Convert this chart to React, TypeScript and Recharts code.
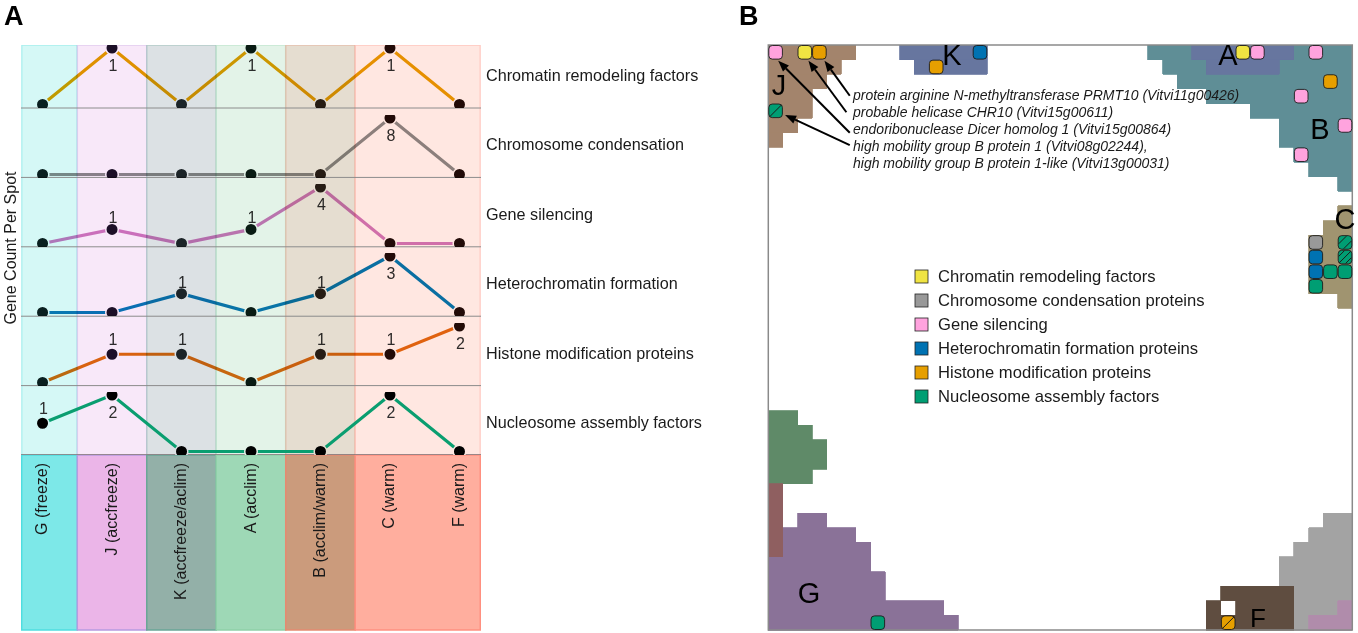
import React from "react";
import {
  LineChart, Line, XAxis, YAxis, ReferenceArea, ReferenceLine, ScatterChart, Scatter,
} from "recharts";

const FONT = '"Liberation Sans", Arial, sans-serif';

// ---- Panel A data ----
const conditions = ["G (freeze)", "J (accfreeze)", "K (accfreeze/aclim)", "A (acclim)", "B (acclim/warm)", "C (warm)", "F (warm)"];
const bandStarts = [-0.3, 0.5, 1.5, 2.5, 3.5, 4.5];
const bandEnds = [0.5, 1.5, 2.5, 3.5, 4.5, 6.3];
const bandFills = ["#7de8e8", "#ebb5e8", "#93b0a8", "#9ed8b6", "#cb9b7c", "#ffae9e"];
const bandEdges = ["#4fdde0", "#b79ae0", "#6aa596", "#8fd0a8", "#e58a70", "#ff9080"];
const paleFills = ["#d5f8f6", "#f8e8f9", "#dce1e4", "#e3f3e8", "#e5ddd0", "#ffe7e1"];
const dotTints = ["#0a2020", "#1c1028", "#20282c", "#0a1c14", "#2a2018", "#220c08", "#220c08"];

const chromatin = [0, 1, 0, 1, 0, 1, 0];
const condensation = [0, 0, 0, 0, 0, 8, 0];
const silencing = [0, 1, 0, 1, 4, 0, 0];
const heterochromatin = [0, 0, 1, 0, 1, 3, 0];
const histone = [0, 1, 1, 0, 1, 1, 2];
const nucleosome = [1, 2, 0, 0, 0, 2, 0];

const rowLabels = ["Chromatin remodeling factors", "Chromosome condensation", "Gene silencing", "Heterochromatin formation", "Histone modification proteins", "Nucleosome assembly factors"];
const rowLines = [0, 1, 2, 3, 4, 5];

// ---- Panel B data: [colStart, colEnd, rowStart, rowEnd] in a 40 x 40 SOM grid ----
const regionJ = [[0, 6, 0, 1], [0, 5, 1, 2], [0, 4, 2, 3], [0, 3, 3, 5], [0, 2, 5, 6], [0, 1, 6, 7]];
const regionK = [[9, 15, 0, 1], [10, 15, 1, 2]];
const regionB = [[26, 40, 0, 1], [27, 40, 1, 2], [28, 40, 2, 3], [30, 40, 3, 4], [33, 40, 4, 5], [35, 40, 5, 7], [36, 40, 7, 8], [37, 40, 8, 9], [39, 40, 9, 10]];
const regionA = [[29, 36, 0, 1], [30, 35, 1, 2]];
const regionC = [[39, 40, 11, 12], [38, 40, 12, 13], [37, 40, 13, 17], [39, 40, 17, 18]];
const regionGreen = [[0, 2, 25, 26], [0, 3, 26, 27], [0, 4, 27, 29], [0, 3, 29, 30]];
const regionG = [[2, 4, 32, 33], [1, 6, 33, 34], [1, 7, 34, 35], [0, 7, 35, 36], [0, 8, 36, 38], [0, 12, 38, 39], [0, 13, 39, 40]];
const regionRed = [[0, 1, 30, 35]];
const regionGray = [[38, 40, 32, 33], [37, 40, 33, 34], [36, 40, 34, 35], [35, 40, 35, 37], [36, 40, 37, 40]];
const regionF = [[31, 36, 37, 38], [30, 31, 38, 39], [32, 36, 38, 39], [30, 36, 39, 40]];
const regionMauve = [[39, 40, 38, 39], [37, 40, 39, 40]];

const regionLayers: [number[][], string][] = [
  [regionJ, "#a3846c"],
  [regionB, "#5f8e96"],
  [regionK, "#67769f"],
  [regionA, "#67769f"],
  [regionC, "#a09470"],
  [regionGreen, "#5f8a68"],
  [regionG, "#8a7298"],
  [regionRed, "#8f5f60"],
  [regionGray, "#a3a3a3"],
  [regionF, "#5f4d40"],
  [regionMauve, "#b08cab"],
];

const spotsChromatin = [{ c: 2, r: 0 }, { c: 32, r: 0 }];
const spotsCondensation = [{ c: 37, r: 13 }];
const spotsSilencing = [{ c: 0, r: 0 }, { c: 33, r: 0 }, { c: 37, r: 0 }, { c: 36, r: 3 }, { c: 39, r: 5 }, { c: 36, r: 7 }];
const spotsHetero = [{ c: 14, r: 0 }, { c: 37, r: 14 }, { c: 37, r: 15 }];
const spotsHistone = [{ c: 3, r: 0 }, { c: 11, r: 1 }, { c: 38, r: 2 }, { c: 31, r: 39, hatch: 1 }];
const spotsNucleosome = [{ c: 0, r: 4, hatch: 1 }, { c: 39, r: 13, hatch: 2 }, { c: 39, r: 14, hatch: 3 }, { c: 38, r: 15 }, { c: 39, r: 15 }, { c: 37, r: 16 }, { c: 7, r: 39 }];

const spotSeries: [string, string, { c: number; r: number; hatch?: number }[]][] = [
  ["Chromatin remodeling factors", "#f0e442", spotsChromatin],
  ["Chromosome condensation proteins", "#999999", spotsCondensation],
  ["Gene silencing", "#ffa3de", spotsSilencing],
  ["Heterochromatin formation proteins", "#0072b2", spotsHetero],
  ["Histone modification proteins", "#e69f00", spotsHistone],
  ["Nucleosome assembly factors", "#009e73", spotsNucleosome],
];

const arrowSegments = [
  [5.58, 3.47, 3.85, 1.07],
  [5.35, 4.6, 2.75, 1.07],
  [5.58, 6.0, 0.68, 1.07],
  [5.58, 6.84, 1.15, 4.79],
];

const annotations = [
  "protein arginine N-methyltransferase PRMT10 (Vitvi11g00426)",
  "probable helicase CHR10 (Vitvi15g00611)",
  "endoribonuclease Dicer homolog 1 (Vitvi15g00864)",
  "high mobility group B protein 1 (Vitvi08g02244),",
  "high mobility group B protein 1-like (Vitvi13g00031)",
];

const somLetters = [
  { t: "J", x: 779, y: 95, s: 29 }, { t: "K", x: 952, y: 65, s: 29 }, { t: "A", x: 1228, y: 65, s: 29 }, { t: "B", x: 1320, y: 139, s: 29 },
  { t: "C", x: 1345, y: 229, s: 29 }, { t: "G", x: 809, y: 603, s: 29 }, { t: "F", x: 1258, y: 627, s: 26 },
];

const layer = (left: number, top: number): React.CSSProperties => ({ position: "absolute", left, top });
const X_DOMAIN: [number, number] = [-0.31, 6.31];
const AREA_W = 460;
const AREA_L = 21;
const TXT = 16;

function Row({ values, color, top, above, dotFills, dotEdges }: { values: number[]; color: string; top: number; above: number; dotFills: string[]; dotEdges: string[] }) {
  const data = values.map((v, i) => ({ i, v }));
  const max = Math.max(...values);
  return (
    <div style={layer(AREA_L, top)}>
      <LineChart width={AREA_W} height={63} data={data} margin={{ top: 3, bottom: 3.5, left: 0, right: 0 }}>
        <XAxis dataKey="i" type="number" domain={X_DOMAIN} hide />
        <YAxis type="number" domain={[0, max]} hide />
        <Line
          dataKey="v"
          type="linear"
          stroke={color}
          strokeWidth={3.2}
          isAnimationActive={false}
          dot={(p: any) => (
            <circle key={p.index} cx={p.cx} cy={p.cy} r={6.25} fill={dotFills[p.index]} stroke={dotEdges[p.index]} strokeWidth={1.5} />
          )}
          label={(p: any) => {
            if (!p.value) return <g key={p.index} />;
            const below = p.value === max;
            return (
              <text key={p.index} x={p.x + 1} y={p.y + (below ? 22.5 : -above)} textAnchor="middle" fontSize={TXT} fontFamily={FONT} fill="#2e2e2e">
                {p.value}
              </text>
            );
          }}
        />
      </LineChart>
    </div>
  );
}

const BandChart = ({ height, bottom, fills, top, yMax, strokeOpacity, lines, blend }: any) => (
  <div style={{ ...layer(AREA_L, top), mixBlendMode: blend }}>
    <LineChart width={AREA_W} height={height} data={conditions.map((_, i) => ({ i, base: 0 }))} margin={{ top: 0, bottom, left: 0, right: 0 }}>
      <XAxis dataKey="i" type="number" domain={X_DOMAIN} hide />
      <YAxis type="number" domain={[0, yMax]} hide />
      {bandStarts.map((s, k) => (
        <ReferenceArea key={k} x1={s} x2={bandEnds[k]} y1={0} y2={yMax} fill={fills[k]} fillOpacity={1} stroke={bandEdges[k]} strokeOpacity={strokeOpacity} strokeWidth={1.5} ifOverflow="visible" />
      ))}
      {lines && rowLines.map((k) => (
        <ReferenceLine key={k} y={k} stroke={k === 0 ? "#7a6c70" : "#8c8c8c"} strokeWidth={k === 0 ? 1.6 : 1} ifOverflow="visible" />
      ))}
      <Line dataKey="base" stroke="none" dot={false} isAnimationActive={false} />
    </LineChart>
  </div>
);

const TickChart = ({ top, height }: any) => (
  <div style={layer(AREA_L, top)}>
    <LineChart width={AREA_W} height={height} data={conditions.map((_, i) => ({ i, base: 0 }))} margin={{ top: 0, bottom: 1, left: 0, right: 0 }}>
      <XAxis
        dataKey="i"
        type="number"
        domain={X_DOMAIN}
        orientation="top"
        height={1}
        ticks={conditions.map((_, i) => i)}
        interval={0}
        axisLine={false}
        tickLine={false}
        tick={(p: any) => (
          <text
            key={p.index}
            x={p.x - 1}
            y={8}
            dy={5.5}
            transform={`rotate(-90 ${p.x - 1} 8)`}
            textAnchor="end"
            fontSize={TXT}
            fontFamily={FONT}
            fill="#1a1a1a"
          >
            {conditions[p.payload.value]}
          </text>
        )}
      />
      <YAxis type="number" domain={[0, 1]} hide />
      <Line dataKey="base" stroke="none" dot={false} isAnimationActive={false} />
    </LineChart>
  </div>
);

const SpotShape = (p: any) => {
  const s = 13.6;
  const x = p.cx - s / 2;
  const y = p.cy - s / 2;
  const hatch = p.payload?.hatch || 0;
  const diag = (a: number, b: number, key: string) => (
    <line key={key} x1={x + a} y1={y + b} x2={x + b} y2={y + a} stroke="#1c1c1c" strokeWidth={1} />
  );
  return (
    <g>
      <rect x={x} y={y} width={s} height={s} rx={3.5} fill={p.fill} stroke="#1c1c1c" strokeWidth={0.9} />
      {hatch === 1 && diag(1, s - 1, "m")}
      {hatch === 2 && [diag(0.5, s * 0.6, "a"), diag(s * 0.4, s - 0.5, "b")]}
      {hatch === 3 && [diag(0.5, s * 0.45, "a"), diag(1, s - 1, "m"), diag(s * 0.55, s - 0.5, "b")]}
    </g>
  );
};

const ArrowLine = (p: any) => {
  const { x1, y1, x2, y2 } = p;
  const a = Math.atan2(y2 - y1, x2 - x1);
  const L = 11;
  const W = 4.2;
  const bx = x2 - L * Math.cos(a);
  const by = y2 - L * Math.sin(a);
  const pts = `${x2},${y2} ${bx - W * Math.sin(a)},${by + W * Math.cos(a)} ${bx + W * Math.sin(a)},${by - W * Math.cos(a)}`;
  return (
    <g>
      <line x1={x1} y1={y1} x2={bx} y2={by} stroke="#000" strokeWidth={2} />
      <polygon points={pts} fill="#000" />
    </g>
  );
};

export default function App() {
  const whiteRow = conditions.map(() => "#fff");
  const blackRow = conditions.map(() => "#000");
  const paleRow = [0, 1, 2, 3, 4, 5, 5].map((k) => paleFills[k]);
  return (
    <div style={{ position: "absolute", left: 0, top: 0, width: 1358, height: 633, overflow: "hidden", background: "#fff", fontFamily: FONT, isolation: "isolate" }}>
      {/* Rows under the multiplied bands */}
      <Row values={chromatin} color="#e69f00" top={45} above={6} dotFills={dotTints} dotEdges={whiteRow} />
      <Row values={condensation} color="#8c8c8c" top={114.5} above={6} dotFills={dotTints} dotEdges={whiteRow} />
      <Row values={silencing} color="#d07ac0" top={183.5} above={6} dotFills={dotTints} dotEdges={whiteRow} />
      <Row values={heterochromatin} color="#0a7ab8" top={253} above={6} dotFills={dotTints} dotEdges={whiteRow} />
      <Row values={histone} color="#e06c10" top={322.5} above={9} dotFills={dotTints} dotEdges={whiteRow} />

      <BandChart top={45} height={412} bottom={2} fills={paleFills} yMax={5.908} strokeOpacity={0.35} lines blend="multiply" />

      <Row values={nucleosome} color="#0a9e70" top={392} above={9} dotFills={blackRow} dotEdges={paleRow} />

      <BandChart top={455} height={176} bottom={1} fills={bandFills} yMax={1} strokeOpacity={1} blend="normal" />
      <TickChart top={455} height={176} />

      {/* Panel B */}
      <div style={layer(767, 44)}>
        <ScatterChart width={587} height={588} margin={{ top: 1, left: 1.3, right: 1.7, bottom: 2 }}>
          <XAxis dataKey="x" type="number" domain={[0, 40]} hide />
          <YAxis dataKey="y" type="number" domain={[0, 40]} reversed hide />
          {regionLayers.map(([cells, color], li) =>
            cells.map((cell, k) => (
              <ReferenceArea key={`${li}-${k}`} x1={cell[0]} x2={cell[1]} y1={cell[2]} y2={cell[3]} fill={color} fillOpacity={1} stroke={color} strokeWidth={0.8} shapeRendering="crispEdges" ifOverflow="visible" />
            ))
          )}
          <ReferenceArea x1={0} x2={40} y1={0} y2={40} fill="none" stroke="#8a8a8a" strokeWidth={1.5} ifOverflow="visible" />
          {spotSeries.map(([name, color, spots]) => (
            <Scatter
              key={name}
              name={name}
              data={spots.map((s) => ({ x: s.c + 0.5, y: s.r + 0.5, hatch: s.hatch }))}
              fill={color}
              isAnimationActive={false}
              shape={SpotShape}
            />
          ))}
          {arrowSegments.map((s, k) => (
            <ReferenceLine key={k} segment={[{ x: s[0], y: s[1] }, { x: s[2], y: s[3] }]} ifOverflow="visible" shape={ArrowLine} />
          ))}
        </ScatterChart>
      </div>

      {/* Text */}
      <svg width={1358} height={633} style={{ ...layer(0, 0), pointerEvents: "none" }} fontFamily={FONT}>
        <text x={4} y={25} fontSize={27} fontWeight="bold" fill="#000">A</text>
        <text x={739} y={25} fontSize={27} fontWeight="bold" fill="#000">B</text>
        <text transform="rotate(-90 16 248)" x={16} y={248} textAnchor="middle" fontSize={TXT} fill="#1a1a1a">Gene Count Per Spot</text>
        {rowLabels.map((t, k) => (
          <text key={t} x={486} y={81 + k * 69.4} fontSize={16.2} fill="#1a1a1a">{t}</text>
        ))}
        {annotations.map((t, k) => (
          <text key={t} x={853} y={100 + k * 17} fontSize={14} fontStyle="italic" fill="#1a1a1a">{t}</text>
        ))}
        {spotSeries.map(([name, color], k) => (
          <g key={name}>
            <rect x={915} y={270 + k * 24} width={13} height={13} fill={color} stroke="#222" strokeWidth={0.8} />
            <text x={938} y={282 + k * 24} fontSize={16.6} fill="#1a1a1a">{name}</text>
          </g>
        ))}
        {somLetters.map((l) => (
          <text key={l.t} x={l.x} y={l.y} textAnchor="middle" fontSize={l.s} fill="#000">{l.t}</text>
        ))}
      </svg>
    </div>
  );
}
